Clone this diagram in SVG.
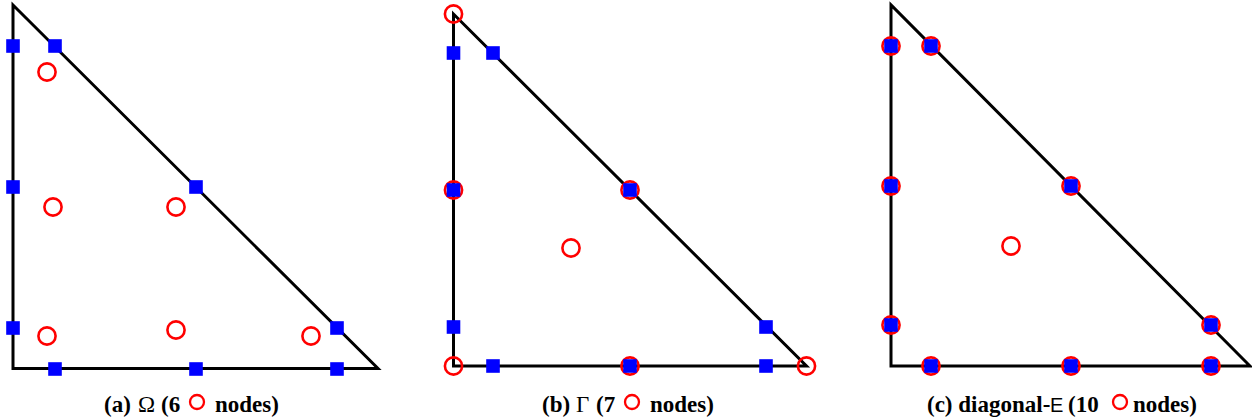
<svg xmlns="http://www.w3.org/2000/svg" width="1252" height="420" viewBox="0 0 1252 420">
<style>
.tri{fill:none;stroke:#000;stroke-width:3;stroke-linejoin:miter}
.sq{fill:#0000ff}
.ci{fill:none;stroke:#ff0000;stroke-width:2.6}
.cc{fill:none;stroke:#ff0000;stroke-width:2.3}
</style>
<defs>
<rect id="s" class="sq" x="-6.8" y="-6.8" width="13.6" height="13.6"/>
<circle id="c" class="ci" r="8.6"/>
</defs>

<g id="panel-a">
<path class="tri" d="M13,5 L13,368.5 L378,368.5 Z"/>
<g id="a-circles">
<use href="#c" x="47" y="72"/>
<use href="#c" x="53" y="207"/>
<use href="#c" x="176" y="207"/>
<use href="#c" x="47" y="336"/>
<use href="#c" x="176" y="330"/>
<use href="#c" x="311" y="336"/>
</g>
<g id="a-squares">
<use href="#s" x="13" y="46"/>
<use href="#s" x="13" y="187"/>
<use href="#s" x="13" y="328"/>
<use href="#s" x="55" y="46"/>
<use href="#s" x="196" y="187"/>
<use href="#s" x="337" y="328"/>
<use href="#s" x="55" y="369"/>
<use href="#s" x="196" y="369"/>
<use href="#s" x="337" y="369"/>
</g>
<g id="a-caption">
<text x="104" y="412" font-family="'Liberation Serif','Times New Roman',serif" font-size="23" font-weight="bold" fill="#000">(a)<tspan x="138" font-weight="normal">Ω</tspan><tspan x="161">(6</tspan></text>
<circle class="cc" cx="197" cy="402" r="7"/>
<text x="215" y="412" font-family="'Liberation Serif','Times New Roman',serif" font-size="23" font-weight="bold" fill="#000">nodes)</text>
</g>
</g>

<g id="panel-b">
<path class="tri" d="M453.5,14 L453.5,366 L806.5,366 Z"/>
<g id="b-circles">
<use href="#c" x="453.5" y="14"/>
<use href="#c" x="453.5" y="366"/>
<use href="#c" x="806.5" y="366"/>
<use href="#c" x="453.5" y="190"/>
<use href="#c" x="630" y="190"/>
<use href="#c" x="630" y="366"/>
<use href="#c" x="571" y="248"/>
</g>
<g id="b-squares">
<use href="#s" x="453.5" y="53"/>
<use href="#s" x="453.5" y="190"/>
<use href="#s" x="453.5" y="327"/>
<use href="#s" x="493" y="53"/>
<use href="#s" x="630" y="190"/>
<use href="#s" x="766" y="327"/>
<use href="#s" x="493" y="366"/>
<use href="#s" x="630" y="366"/>
<use href="#s" x="766" y="366"/>
</g>
<g id="b-caption">
<text x="542" y="412" font-family="'Liberation Serif','Times New Roman',serif" font-size="23" font-weight="bold" fill="#000">(b)<tspan x="576" font-weight="normal">Γ</tspan><tspan x="596">(7</tspan></text>
<circle class="cc" cx="632" cy="402" r="7"/>
<text x="650" y="412" font-family="'Liberation Serif','Times New Roman',serif" font-size="23" font-weight="bold" fill="#000">nodes)</text>
</g>
</g>

<g id="panel-c">
<path class="tri" d="M891,5 L891,366 L1250,366 Z"/>
<g id="c-circles">
<use href="#c" x="891" y="46"/>
<use href="#c" x="891" y="186"/>
<use href="#c" x="891" y="325"/>
<use href="#c" x="931" y="46"/>
<use href="#c" x="1071" y="186"/>
<use href="#c" x="1211" y="325"/>
<use href="#c" x="931" y="366"/>
<use href="#c" x="1071" y="366"/>
<use href="#c" x="1211" y="366"/>
<use href="#c" x="1011" y="246"/>
</g>
<g id="c-squares">
<use href="#s" x="891" y="46"/>
<use href="#s" x="891" y="186"/>
<use href="#s" x="891" y="325"/>
<use href="#s" x="931" y="46"/>
<use href="#s" x="1071" y="186"/>
<use href="#s" x="1211" y="325"/>
<use href="#s" x="931" y="366"/>
<use href="#s" x="1071" y="366"/>
<use href="#s" x="1211" y="366"/>
</g>
<g id="c-caption">
<text x="927" y="412" font-family="'Liberation Serif','Times New Roman',serif" font-size="23" font-weight="bold" fill="#000">(c) diagonal-<tspan x="1050" font-family="'Liberation Sans',Arial,sans-serif" font-size="20" font-weight="normal">E</tspan><tspan x="1068">(10</tspan></text>
<circle class="cc" cx="1120" cy="402" r="7"/>
<text x="1133" y="412" font-family="'Liberation Serif','Times New Roman',serif" font-size="23" font-weight="bold" fill="#000">nodes)</text>
</g>
</g>
</svg>
